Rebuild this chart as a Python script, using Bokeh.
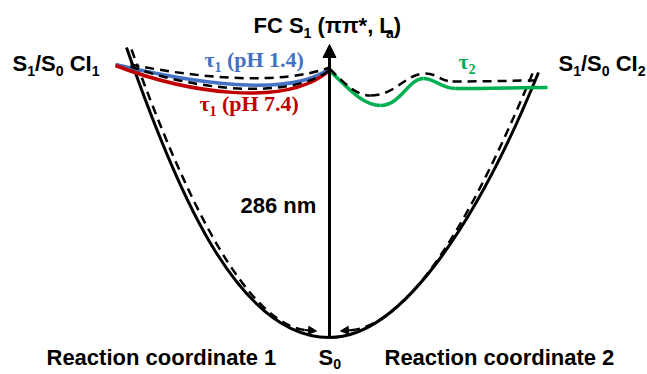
from bokeh.plotting import figure
from bokeh.models import Range1d, Arrow, NormalHead, ColumnDataSource
from bokeh.core.properties import value
from bokeh.embed import file_html
from bokeh.resources import INLINE

W, H = 647, 374

# ---- schematic curves: cubic Bezier segments (start, control 1, control 2, end), picture units ----
# ground-state surface S0 (solid black): left branch, right branch
s0_x0 = [126, 538]; s0_y0 = [47, 72]
s0_cx0 = [178, 481]; s0_cy0 = [197, 212]
s0_cx1 = [239, 404]; s0_cy1 = [337, 337]
s0_x1 = [329, 329]; s0_y1 = [337, 337]

# relaxation paths back to S0 (dashed black, inside the surface)
dn_x0 = [131, 532]; dn_y0 = [49, 73]
dn_cx0 = [183, 475]; dn_cy0 = [193, 210]
dn_cx1 = [246, 410]; dn_cy1 = [329, 329]
dn_x1 = [310, 346]; dn_y1 = [330, 330]

# excited-state paths on S1 (dashed black): two to CI1, one wavy to CI2
up_x0 = [130, 130, 329, 370, 425, 452]
up_y0 = [64, 66, 68, 95, 73, 81]
up_cx0 = [200, 190, 345, 395, 437, 490]
up_cy0 = [78, 88, 84, 95, 73, 81]
up_cx1 = [280, 285, 356, 405, 440, 515]
up_cy1 = [85, 101, 95, 73, 81, 80]
up_x1 = [329, 329, 370, 425, 452, 535]
up_y1 = [67, 70, 95, 73, 81, 80]

# tau1 (pH 1.4) blue, tau1 (pH 7.4) red
blue_x0 = [115]; blue_y0 = [64]; blue_cx0 = [190]; blue_cy0 = [82]
blue_cx1 = [290]; blue_cy1 = [98]; blue_x1 = [329]; blue_y1 = [68]
red_x0 = [115]; red_y0 = [65]; red_cx0 = [185]; red_cy0 = [92]
red_cx1 = [285]; red_cy1 = [108]; red_x1 = [329]; red_y1 = [70]

# tau2 green (wavy)
grn_x0 = [329, 380, 423, 455]
grn_y0 = [70, 105, 78, 88]
grn_cx0 = [346, 400, 435, 490]
grn_cy0 = [86, 105, 78, 88]
grn_cx1 = [362, 408, 440, 520]
grn_cy1 = [105, 78, 88, 87]
grn_x1 = [380, 423, 455, 547]
grn_y1 = [105, 78, 88, 87]

# vertical excitation arrow (286 nm) and the two arrowheads of the dashed paths
exc_x = [329, 329]; exc_y = [337, 44]
head_l = [(304, 329.5), (316, 330.5)]
head_r = [(352, 329.5), (340, 330.5)]

BLACK = "#000000"
BLUE = "#4472C4"
RED = "#C00000"
GREEN = "#00B050"

p = figure(width=W, height=H, x_range=Range1d(0, W), y_range=Range1d(H, 0),
           output_backend="svg", toolbar_location=None, min_border=0,
           x_axis_type=None, y_axis_type=None)
p.grid.visible = False
p.outline_line_color = None
p.background_fill_color = "white"
p.border_fill_color = "white"


def bez(x0, y0, cx0, cy0, cx1, cy1, x1, y1, **kw):
    src = ColumnDataSource(dict(x0=x0, y0=y0, cx0=cx0, cy0=cy0, cx1=cx1, cy1=cy1, x1=x1, y1=y1))
    p.bezier(x0="x0", y0="y0", cx0="cx0", cy0="cy0", cx1="cx1", cy1="cy1",
             x1="x1", y1="y1", source=src, **kw)


bez(s0_x0, s0_y0, s0_cx0, s0_cy0, s0_cx1, s0_cy1, s0_x1, s0_y1, line_color=BLACK, line_width=3)
bez(dn_x0, dn_y0, dn_cx0, dn_cy0, dn_cx1, dn_cy1, dn_x1, dn_y1, line_color=BLACK, line_width=2.5, line_dash="9 6")
bez(blue_x0, blue_y0, blue_cx0, blue_cy0, blue_cx1, blue_cy1, blue_x1, blue_y1, line_color=BLUE, line_width=3.5)
bez(red_x0, red_y0, red_cx0, red_cy0, red_cx1, red_cy1, red_x1, red_y1, line_color=RED, line_width=3.5)
bez(grn_x0, grn_y0, grn_cx0, grn_cy0, grn_cx1, grn_cy1, grn_x1, grn_y1, line_color=GREEN, line_width=3.5)
bez(up_x0, up_y0, up_cx0, up_cy0, up_cx1, up_cy1, up_x1, up_y1, line_color=BLACK, line_width=2.5, line_dash="9 6")

p.add_layout(Arrow(x_start=exc_x[0], y_start=exc_y[0], x_end=exc_x[1], y_end=exc_y[1],
                   line_color=BLACK, line_width=3,
                   end=NormalHead(size=13, fill_color=BLACK, line_color=BLACK, line_width=1)))
for (xs, ys), (xe, ye) in [head_l, head_r]:
    p.add_layout(Arrow(x_start=xs, y_start=ys, x_end=xe, y_end=ye,
                       line_color=BLACK, line_width=2,
                       end=NormalHead(size=8, fill_color=BLACK, line_color=BLACK, line_width=1)))

# ---- labels (with subscripts as separate smaller text pieces) ----
ARIAL_B = {'S': 667, '1': 556, '/': 278, '0': 556, ' ': 278, 'C': 722, 'I': 278, '2': 556,
           'F': 611, '(': 333, 'π': 611, '*': 389, ',': 278, 'L': 611, 'a': 556, ')': 333,
           '8': 556, '6': 556, 'n': 611, 'm': 889, 'R': 722, 'e': 556, 'c': 556, 't': 333,
           'i': 278, 'o': 611, 'r': 389, 'd': 611}
TIMES_B = {'τ': 450, '1': 500, '2': 500, '4': 500, '7': 500, ' ': 250, '(': 333, ')': 333,
           'p': 556, 'H': 778, '.': 250}

BASE_FIX = 0.36  # renderer places the alphabetic baseline lower by about this share of the size


def tw(s, size, table):
    return sum(table.get(c, 556) for c in s) * size / 1000.0


def rich(x, y, segs, font, size, color, table, subscale=0.64, subdrop=0.2):
    cx = x
    for txt, sub in segs:
        fs = size * subscale if sub else size
        yy = y + (size * subdrop if sub else 0) - BASE_FIX * fs
        lead = len(txt) - len(txt.lstrip(" "))
        cx += tw(" " * lead, fs, table)
        body = txt.lstrip(" ")
        p.text(x=[cx], y=[yy], text=[body], text_font=value(font),
               text_font_size=f"{fs:.1f}px", text_font_style="bold",
               text_color=color, text_align="left", text_baseline="alphabetic")
        cx += tw(body, fs, table)


SANS = "Liberation Sans"
SERIF = "Liberation Serif"
FS = 22

lbl_ci1 = [("S", 0), ("1", 1), ("/S", 0), ("0", 1), (" CI", 0), ("1", 1)]
lbl_ci2 = [("S", 0), ("1", 1), ("/S", 0), ("0", 1), (" CI", 0), ("2", 1)]
lbl_fc = [("FC S", 0), ("1", 1), (" (ππ*, L", 0), ("a", 1), (")", 0)]
lbl_t1a = [("τ", 0), ("1", 1), (" (pH 1.4)", 0)]
lbl_t1b = [("τ", 0), ("1", 1), (" (pH 7.4)", 0)]
lbl_t2 = [("τ", 0), ("2", 1)]
lbl_nm = [("286 nm", 0)]
lbl_rc1 = [("Reaction coordinate 1", 0)]
lbl_rc2 = [("Reaction coordinate 2", 0)]
lbl_s0 = [("S", 0), ("0", 1)]

rich(12, 71, lbl_ci1, SANS, FS, BLACK, ARIAL_B)
rich(558, 71, lbl_ci2, SANS, FS, BLACK, ARIAL_B)
rich(253, 33, lbl_fc, SANS, FS, BLACK, ARIAL_B)
rich(204, 67, lbl_t1a, SERIF, 22, BLUE, TIMES_B)
rich(199, 111, lbl_t1b, SERIF, 22, RED, TIMES_B)
rich(458, 69, lbl_t2, SERIF, 22, GREEN, TIMES_B)
rich(240, 213, lbl_nm, SANS, FS, BLACK, ARIAL_B)
rich(46, 365, lbl_rc1, SANS, FS, BLACK, ARIAL_B)
rich(384, 365, lbl_rc2, SANS, FS, BLACK, ARIAL_B)
rich(318, 365, lbl_s0, SANS, FS, BLACK, ARIAL_B, subdrop=0.15)

open("out.html", "w").write(file_html(p, INLINE))
